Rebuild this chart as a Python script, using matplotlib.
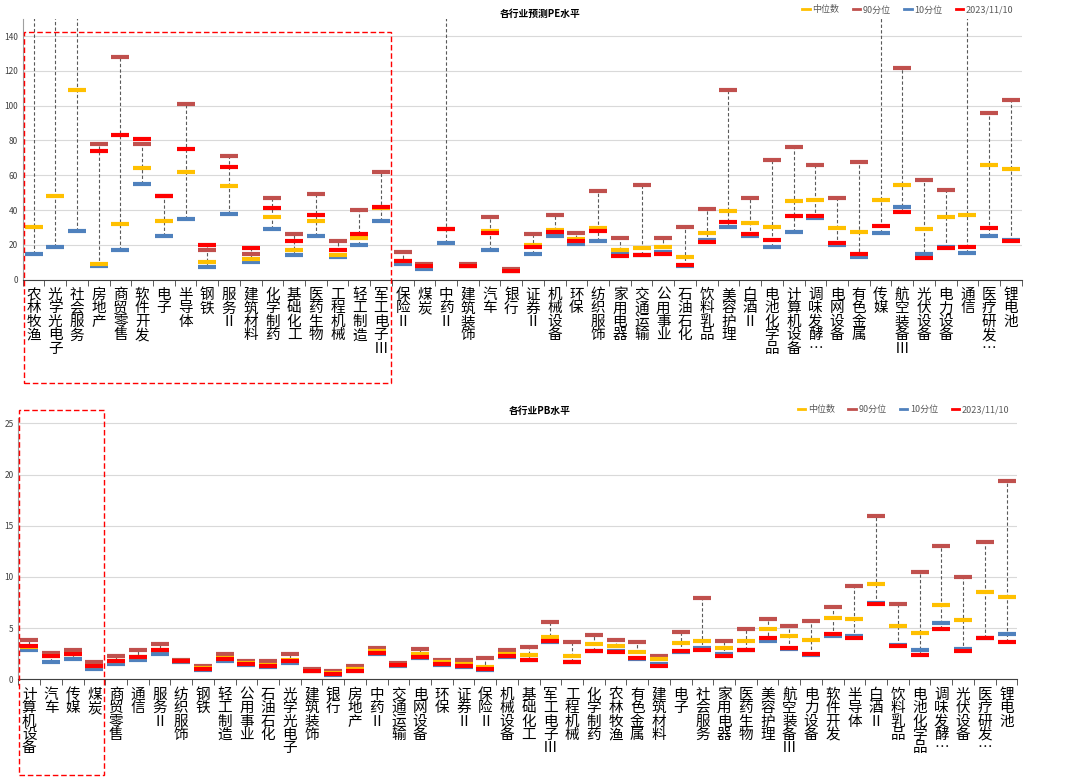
import matplotlib
matplotlib.use("Agg")
import matplotlib.pyplot as plt
from matplotlib.patches import Rectangle
from matplotlib.lines import Line2D
import numpy as np

plt.rcParams['font.family'] = ['Noto Sans CJK SC', 'DejaVu Sans']

OFF = 300  # values beyond the visible range

pe_cats = ["农林牧渔","光学光电子","社会服务","房地产","商贸零售","软件开发","电子","半导体","钢铁","服务Ⅱ",
           "建筑材料","化学制药","基础化工","医药生物","工程机械","轻工制造","军工电子Ⅲ","保险Ⅱ","煤炭","中药Ⅱ",
           "建筑装饰","汽车","银行","证券Ⅱ","机械设备","环保","纺织服饰","家用电器","交通运输","公用事业",
           "石油石化","饮料乳品","美容护理","白酒Ⅱ","电池化学品","计算机设备","调味发酵…","电网设备","有色金属","传媒",
           "航空装备Ⅲ","光伏设备","电力设备","通信","医疗研发…","锂电池"]
pe_med = [30,48,109,9,32,64,34,62,10,54,12,36,17,34,14,24,41,11,8,29,8,28,5,20,
          28.6,23.5,29.7,17,18,19,13,27,39.4,32.6,30,45,45.7,29.5,27.4,45.6,54.4,29,36.3,37.3,66,63.5]
pe_p90 = [OFF,OFF,OFF,78,128,78,48,101,17,71,15,47,26,49,22,40,62,16,9,OFF,9,36,6,26,
          37,27,51,24,54.4,23.7,30.5,40.5,109,47,69,76,66,47,67.8,OFF,121.8,57.3,51.5,OFF,96,103.5]
pe_p10 = [15,19,28,8,17,55,25,35,7,38,10,29,14,25,13,20,34,9,6,21,8,17,5,15,
          25,20.7,22,14.5,14,16,8,23,30,25,18.7,27.6,35.5,20,13,26.6,42,15,19,15.4,25,22.8]
pe_cur = [OFF,OFF,OFF,74,83,81,48,75,20,65,18,41,22,37,17,26,42,11,8,29,8,27,5,19,
          27.6,22,28,13.5,14,14.5,8.7,21.6,33.4,26,23,36.7,36.7,20.8,14.5,30.7,38.8,12.5,18,18.5,29.5,22]

pb_cats = ["计算机设备","汽车","传媒","煤炭","商贸零售","通信","服务Ⅱ","纺织服饰","钢铁","轻工制造",
           "公用事业","石油石化","光学光电子","建筑装饰","银行","房地产","中药Ⅱ","交通运输","电网设备","环保",
           "证券Ⅱ","保险Ⅱ","机械设备","基础化工","军工电子Ⅲ","工程机械","化学制药","农林牧渔","有色金属","建筑材料",
           "电子","社会服务","家用电器","医药生物","美容护理","航空装备Ⅲ","电力设备","软件开发","半导体","白酒Ⅱ",
           "饮料乳品","电池化学品","调味发酵…","光伏设备","医疗研发…","锂电池"]
pb_med = [3.2,2.25,2.5,1.3,1.75,2.15,2.9,1.75,1.1,2.05,1.55,1.35,1.9,0.85,0.57,1.0,2.8,1.4,2.45,1.65,
          1.45,1.2,2.45,2.4,4.15,2.25,3.4,3.3,2.7,2.0,3.5,3.7,3.1,3.75,4.95,4.25,3.85,5.95,5.85,9.3,
          5.2,4.5,7.3,5.75,8.5,8.0]
pb_p90 = [3.8,2.6,2.9,1.67,2.3,2.85,3.4,1.9,1.25,2.5,1.75,1.8,2.45,1.0,0.8,1.3,3.1,1.55,3.0,1.9,
          1.9,2.05,2.85,3.2,5.6,3.6,4.35,3.85,3.65,2.3,4.6,7.9,3.7,4.9,5.9,5.2,5.7,7.1,9.1,16.0,
          7.4,10.45,13.0,10.0,13.4,19.4]
pb_p10 = [2.9,1.7,2.0,1.0,1.45,1.9,2.5,1.7,0.9,1.8,1.4,1.2,1.55,0.78,0.45,0.78,2.45,1.3,2.05,1.4,
          1.2,0.9,2.15,1.85,3.6,1.65,2.75,2.8,2.0,1.45,2.65,3.05,2.45,2.85,3.7,3.0,2.4,4.2,4.2,7.5,
          3.35,2.9,5.5,3.0,4.0,4.45]
pb_cur = [3.3,2.25,2.5,1.3,1.75,2.2,2.85,1.75,0.96,2.0,1.5,1.3,1.8,0.85,0.5,0.85,2.6,1.35,2.2,1.5,
          1.3,0.96,2.25,1.9,3.7,1.7,2.8,2.7,2.1,1.3,2.8,2.9,2.3,2.9,4.0,3.1,2.5,4.4,4.0,7.35,
          3.25,2.35,4.95,2.75,4.0,3.6]

C_MED, C_P90, C_P10, C_CUR = '#FFC000', '#C0504D', '#4F81BD', '#FF0000'

fig = plt.figure(figsize=(10.8, 7.79), dpi=100)

def draw(ax, cats, med, p90, p10, cur, ymax, step):
    x = np.arange(len(cats))
    arrs = np.array([med, p90, p10, cur], dtype=float)
    lo, hi = arrs.min(axis=0), arrs.max(axis=0)
    ax.vlines(x, lo, hi, colors='#595959', linestyles=(0, (3, 2)), linewidth=0.8, zorder=2)
    for vals, c in [(p90, C_P90), (p10, C_P10), (med, C_MED), (cur, C_CUR)]:
        ax.plot(x, vals, linestyle='none', marker='_', markersize=13, mew=3, color=c, zorder=3)
    ax.set_xlim(-0.5, len(cats) - 0.5)
    ax.set_ylim(0, ymax)
    ax.set_yticks(np.arange(0, ymax + 0.01, step))
    ax.tick_params(axis='y', labelsize=6, length=0, colors='#404040')
    ax.set_xticks(x)
    ax.set_xticklabels(['\n'.join(c) for c in cats], fontsize=10.5, linespacing=0.95, va='top')
    ax.tick_params(axis='x', length=0, pad=6)
    ax.set_xticks(np.arange(-0.5, len(cats), 1), minor=True)
    ax.tick_params(axis='x', which='minor', length=4, color='#404040')
    ax.grid(axis='y', color='#d9d9d9', linewidth=0.8)
    ax.set_axisbelow(True)
    for s in ['top', 'right']:
        ax.spines[s].set_visible(False)
    ax.spines['left'].set_color('#a0a0a0')
    ax.spines['bottom'].set_color('#404040')
    handles = [Line2D([], [], color=c, lw=2) for c in [C_MED, C_P90, C_P10, C_CUR]]
    ax.legend(handles, ['中位数', '90分位', '10分位', '2023/11/10'], ncol=4, frameon=False,
              loc='lower right', bbox_to_anchor=(1.0, 0.985), fontsize=6.5, handlelength=0.8,
              handletextpad=0.3, columnspacing=1.5, labelcolor='#595959')

ax1 = fig.add_axes([0.021, 0.641, 0.925, 0.335])
draw(ax1, pe_cats, pe_med, pe_p90, pe_p10, pe_cur, 150, 20)
ax2 = fig.add_axes([0.017, 0.128, 0.925, 0.335])
draw(ax2, pb_cats, pb_med, pb_p90, pb_p10, pb_cur, 25.5, 5)

fig.text(0.5, 0.982, '各行业预测PE水平', ha='center', va='center', fontsize=7, fontweight='bold')
fig.text(0.5, 0.473, '各行业PB水平', ha='center', va='center', fontsize=7, fontweight='bold')

def rect(x0, y0, x1, y1):
    fig.patches.append(Rectangle((x0 / 1080, 1 - y1 / 779), (x1 - x0) / 1080, (y1 - y0) / 779,
                                 transform=fig.transFigure, fill=False, edgecolor='#FF0000',
                                 linestyle=(0, (4, 2)), linewidth=1.0))
rect(24, 32, 391, 383)
rect(19, 410, 104, 775)

fig.savefig('out.png', dpi=100)
